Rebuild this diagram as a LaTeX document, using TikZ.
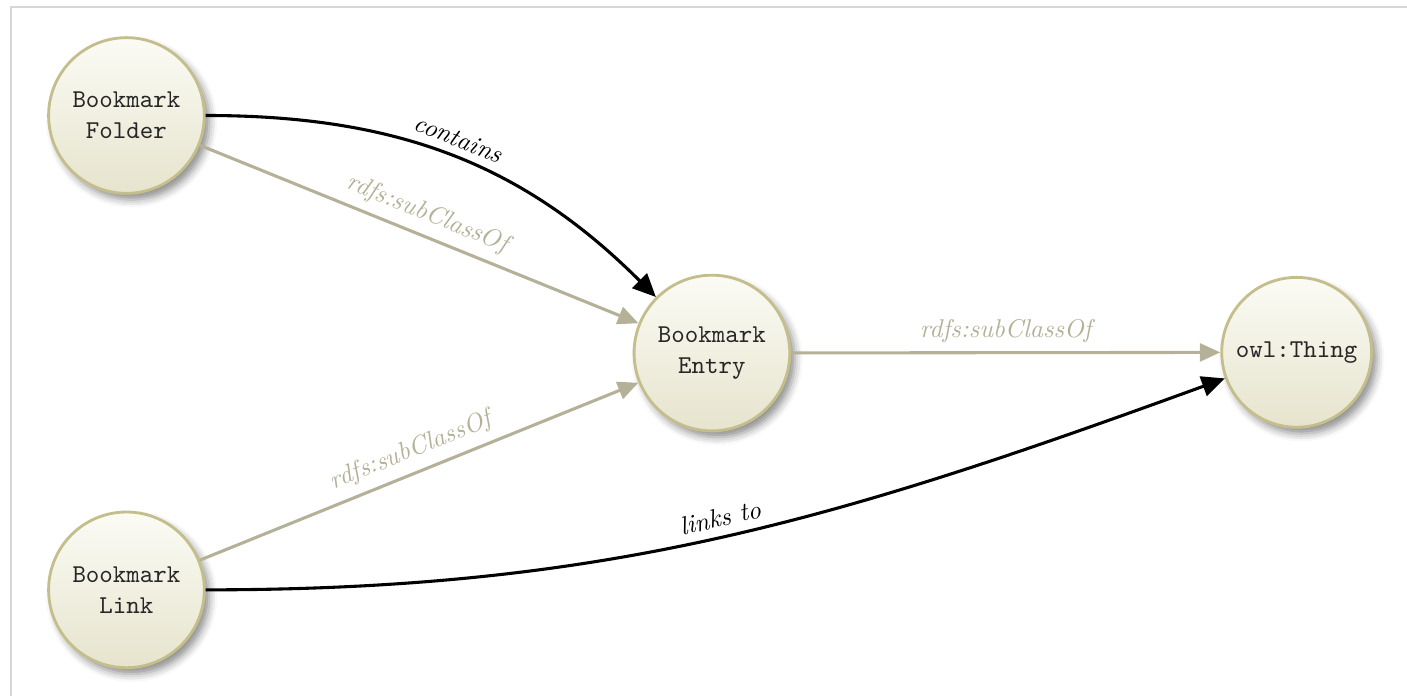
\documentclass[tikz,border=0pt]{standalone}
\usepackage{tikz}
\usetikzlibrary{positioning,arrows.meta,shadows.blur}
\definecolor{classborder}{RGB}{196,190,140}
\definecolor{classtop}{RGB}{251,251,245}
\definecolor{classbottom}{RGB}{230,228,205}
\definecolor{subgray}{RGB}{180,177,152}
\definecolor{framegray}{RGB}{215,215,215}
\tikzset{
  class/.style={shape=circle,draw=classborder,line width=1.1pt,
    top color=classtop,bottom color=classbottom,
    minimum size=2.13cm,inner sep=0pt,align=center,
    font=\ttfamily,text=black!85,
    blur shadow={shadow xshift=2pt,shadow yshift=-2.5pt,
      shadow blur radius=3pt,shadow opacity=45}},
  subclass/.style={draw=subgray,line width=1.2pt,
    -{Triangle[length=8pt,width=7pt]}},
  relation/.style={draw=black,line width=1.2pt,
    -{Triangle[length=9pt,width=8pt]}},
  edgelabel/.style={sloped,above,font=\itshape}
}

\begin{document}
\begin{tikzpicture}
    \useasboundingbox (0,0) rectangle (19.25,-9.52);
    \draw [framegray,line width=0.6pt] (19.25,-0.096) -- (0.15,-0.096) -- (0.15,-9.52);
    \node (folder) [class] at (1.73,-1.58) {Bookmark\\Folder};
    \node (entry) [class] at (9.74,-4.83) {Bookmark\\Entry};
    \node (thing) [class,minimum size=2.05cm] at (17.74,-4.82) {owl:Thing};
    \node (link) [class] at (1.73,-8.07) {Bookmark\\Link};
    \draw [relation] (folder) to[out=0,in=135]
      node (containslabel) [edgelabel,text=black] {contains} (entry);
    \draw [subclass] (folder) --
      node (folderlabel) [edgelabel,text=subgray] {rdfs:subClassOf} (entry);
    \draw [subclass] (link) --
      node (linklabel) [edgelabel,text=subgray] {rdfs:subClassOf} (entry);
    \draw [subclass] (entry) --
      node (entrylabel) [edgelabel,text=subgray] {rdfs:subClassOf} (thing);
    \draw [relation] (link) to[out=0,in=200]
      node (linkstolabel) [edgelabel,text=black] {links to} (thing);
\end{tikzpicture}
\end{document}
